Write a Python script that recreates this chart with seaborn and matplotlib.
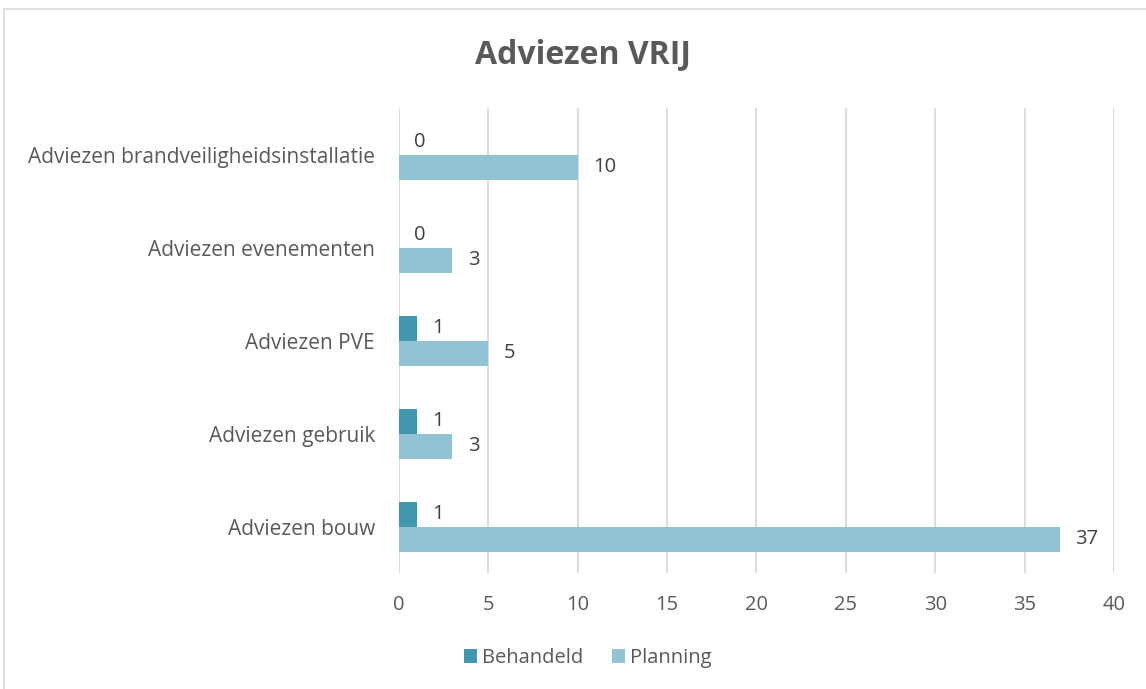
import matplotlib
matplotlib.use("Agg")
import matplotlib.pyplot as plt
import pandas as pd
import seaborn as sns
from matplotlib.patches import Rectangle

# --- data ---
categories = [
    "Adviezen brandveiligheidsinstallatie",
    "Adviezen evenementen",
    "Adviezen PVE",
    "Adviezen gebruik",
    "Adviezen bouw",
]
behandeld = [0, 0, 1, 1, 1]
planning = [10, 3, 5, 3, 37]
series = ["Behandeld", "Planning"]
x_ticks = [0, 5, 10, 15, 20, 25, 30, 35, 40]

df = pd.DataFrame({
    "categorie": categories * 2,
    "reeks": [series[0]] * len(categories) + [series[1]] * len(categories),
    "waarde": behandeld + planning,
})

sns.set_theme(style="white")
plt.rcParams["font.family"] = ["Open Sans", "DejaVu Sans"]

text_color = "#595959"
colors = {"Behandeld": "#4197AE", "Planning": "#92C3D5"}

fig = plt.figure(figsize=(11.46, 6.89), dpi=100)
ax = fig.add_axes([0.348, 0.168, 0.624, 0.675])

sns.barplot(data=df, x="waarde", y="categorie", hue="reeks", order=categories,
            hue_order=series, palette=colors, orient="h", width=0.54,
            dodge=True, saturation=1, linewidth=0, ax=ax, legend=True)

ax.set_xlim(0, 40)
ax.set_xticks(x_ticks)
ax.set_xlabel("")
ax.set_ylabel("")
ax.grid(axis="x", color="#D9D9D9", linewidth=1.3)
ax.set_axisbelow(True)
for s in ax.spines.values():
    s.set_visible(False)
ax.tick_params(axis="y", length=0, pad=17, labelsize=15, labelcolor=text_color)
ax.tick_params(axis="x", length=0, pad=16, labelsize=14.5, labelcolor=text_color)

# data labels
for container in ax.containers:
    ax.bar_label(container, padding=11, fontsize=14.5, color="#404040")

# title, centred over the chart area
fig.text(0.509, 0.921, "Adviezen VRIJ", fontsize=23, fontweight="bold",
         color=text_color, ha="center", va="center")

leg = ax.legend(loc="center", bbox_to_anchor=(0.513, 0.045), bbox_transform=fig.transFigure,
                ncol=2, frameon=False, fontsize=14.5, handlelength=0.65, handleheight=0.65,
                handletextpad=0.25, columnspacing=1.4)
for t in leg.get_texts():
    t.set_color(text_color)

# chart border
fig.patches.append(Rectangle((4 / 1146, -0.01), 1.1, 1 - 9 / 689 + 0.01, transform=fig.transFigure,
                             fill=False, edgecolor="#D9D9D9", linewidth=1.2))

fig.savefig("out.png", dpi=100)
